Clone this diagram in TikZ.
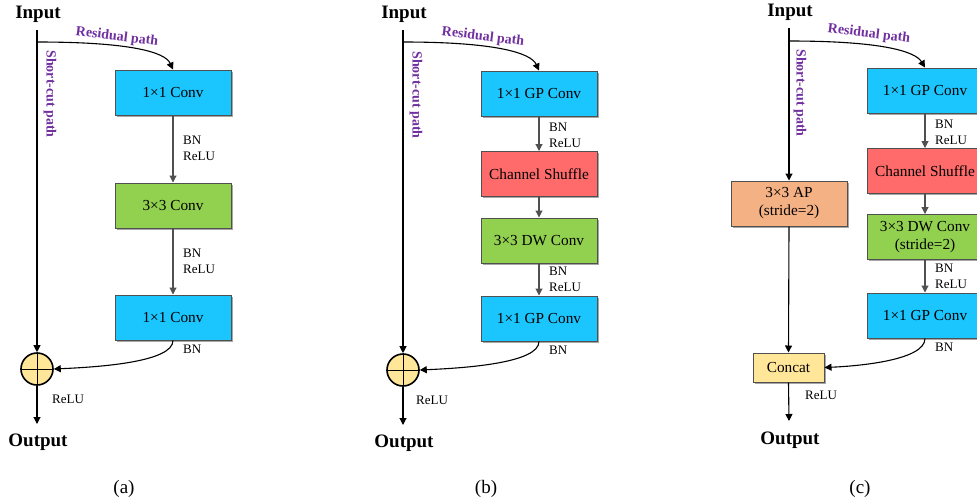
\documentclass[tikz,border=0pt]{standalone}
\usepackage{fontspec}
\setmainfont{Liberation Serif}
\usetikzlibrary{arrows.meta,shadows}
\definecolor{cblue}{HTML}{1BC5FD}
\definecolor{cgreen}{HTML}{92D050}
\definecolor{cred}{HTML}{FF6B6B}
\definecolor{corange}{HTML}{F4B183}
\definecolor{cyel}{HTML}{FFE699}
\definecolor{cpurple}{HTML}{7030A0}
\definecolor{cgray}{HTML}{505050}
\tikzset{
  blk/.style={draw=cgray, line width=1pt, minimum width=116pt, minimum height=45pt, inner sep=1pt, align=center, font=\fontsize{15.3}{18}\selectfont, drop shadow={shadow xshift=1.5pt, shadow yshift=-1.5pt, opacity=0.35, fill=black}},
  ttl/.style={font=\fontsize{19}{21}\selectfont\bfseries},
  lbl/.style={font=\fontsize{13}{16}\selectfont, align=left, anchor=west, inner sep=0pt},
  plbl/.style={font=\fontsize{14}{16}\selectfont\bfseries, text=cpurple, inner sep=0pt},
  garr/.style={draw=cgray, line width=1.1pt, -{Triangle[length=7pt,width=7pt]}},
  barr/.style={draw=black, line width=1.1pt, -{Triangle[length=7pt,width=7pt]}},
  sumc/.style={circle, draw=black, line width=1.6pt, fill=cyel, minimum size=32pt, inner sep=0pt},
  captxt/.style={font=\fontsize{19}{21}\selectfont},
}
\begin{document}
\begin{tikzpicture}[x=1pt,y=-1pt]
\useasboundingbox (0,0) rectangle (977,501);
\clip (0,0) rectangle (977,501);
% ================= (a)
\node[ttl] (ina) at (38,14) {Input};
\coordinate (sa) at (37,30);
\coordinate (ba) at (37,42);
\node[blk, fill=cblue] (a1) at (173,92.5) {1×1 Conv};
\node[blk, fill=cgreen] (a2) at (173,205.5) {3×3 Conv};
\node[blk, fill=cblue] (a3) at (173,317.5) {1×1 Conv};
\node[sumc] (suma) at (37,369) {};
\draw[line width=1pt] (suma.north) -- (suma.south) (suma.west) -- (suma.east);
\coordinate (outa) at (37,424);
\node[ttl] (oa) at (38,442) {Output};
\draw[barr] (sa) -- (suma.north);
\draw[barr] (ba) .. controls (130,42) and (165,52) .. (a1.north);
\draw[garr] (a1) -- (a2);
\draw[garr] (a2) -- (a3);
\draw[barr] (a3.south) .. controls (173,362) and (100,367) .. (suma.east);
\draw[barr] (suma.south) -- (outa);
\node[plbl, rotate=-7] (rpa) at (117,37) {Residual path};
\node[plbl, rotate=-90] (spa) at (50,94) {Short-cut path};
\node[lbl] (la1) at (183,148.5) {BN\\ReLU};
\node[lbl] (la2) at (183,261) {BN\\ReLU};
\node[lbl] (la3) at (183,349) {BN};
\node[lbl] (la4) at (52,399) {ReLU};
\node[captxt] (capa) at (124,489) {(a)};
% ================= (b)
\node[ttl] (inb) at (404,14) {Input};
\coordinate (sb) at (403,30);
\coordinate (bb) at (403,42);
\node[blk, fill=cblue] (b1) at (539,93.5) {1×1 GP Conv};
\node[blk, fill=cred] (b2) at (539,174) {Channel Shuffle};
\node[blk, fill=cgreen] (b3) at (539,240.5) {3×3 DW Conv};
\node[blk, fill=cblue] (b4) at (539,318.5) {1×1 GP Conv};
\node[sumc] (sumb) at (403,370) {};
\draw[line width=1pt] (sumb.north) -- (sumb.south) (sumb.west) -- (sumb.east);
\coordinate (outb) at (403,425);
\node[ttl] (ob) at (404,443) {Output};
\draw[barr] (sb) -- (sumb.north);
\draw[barr] (bb) .. controls (496,42) and (531,53) .. (b1.north);
\draw[garr] (b1) -- (b2);
\draw[garr] (b2) -- (b3);
\draw[garr] (b3) -- (b4);
\draw[barr] (b4.south) .. controls (539,363) and (466,368) .. (sumb.east);
\draw[barr] (sumb.south) -- (outb);
\node[plbl, rotate=-7] (rpb) at (483,37) {Residual path};
\node[plbl, rotate=-90] (spb) at (416,95) {Short-cut path};
\node[lbl] (lb1) at (549,135) {BN\\ReLU};
\node[lbl] (lb2) at (549,279) {BN\\ReLU};
\node[lbl] (lb3) at (549,350) {BN};
\node[lbl] (lb4) at (416,400) {ReLU};
\node[captxt] (capb) at (486,489) {(b)};
% ================= (c)
\node[ttl] (inc) at (790,12) {Input};
\coordinate (sc) at (789,28);
\coordinate (bc) at (789,41);
\node[blk, fill=cblue] (c1) at (925,90.5) {1×1 GP Conv};
\node[blk, fill=cred] (c2) at (925,171) {Channel Shuffle};
\node[blk, fill=cgreen] (c3) at (925,237) {3×3 DW Conv\\(stride=2)};
\node[blk, fill=cblue] (c4) at (925,315.5) {1×1 GP Conv};
\node[blk, fill=corange] (cap1) at (789,203.5) {3×3 AP\\(stride=2)};
\node[blk, fill=cyel, minimum width=71pt, minimum height=29pt] (cc) at (788.5,367.5) {Concat};
\coordinate (outc) at (789,421);
\node[ttl] (oc) at (790,440) {Output};
\draw[barr] (sc) -- (cap1.north);
\draw[barr] (cap1.south) -- (cc.north);
\draw[barr] (bc) .. controls (880,41) and (915,51) .. (c1.north);
\draw[garr] (c1) -- (c2);
\draw[garr] (c2) -- (c3);
\draw[garr] (c3) -- (c4);
\draw[barr] (c4.south) .. controls (925,360) and (860,366) .. (cc.east);
\draw[barr] (cc.south) -- (outc);
\node[plbl, rotate=-7] (rpc) at (869,34) {Residual path};
\node[plbl, rotate=-90] (spc) at (800,93) {Short-cut path};
\node[lbl] (lc1) at (935,132) {BN\\ReLU};
\node[lbl] (lc2) at (935,276) {BN\\ReLU};
\node[lbl] (lc3) at (935,347) {BN};
\node[lbl] (lc4) at (805,395) {ReLU};
\node[captxt] (capc) at (860,489) {(c)};
\end{tikzpicture}
\end{document}
